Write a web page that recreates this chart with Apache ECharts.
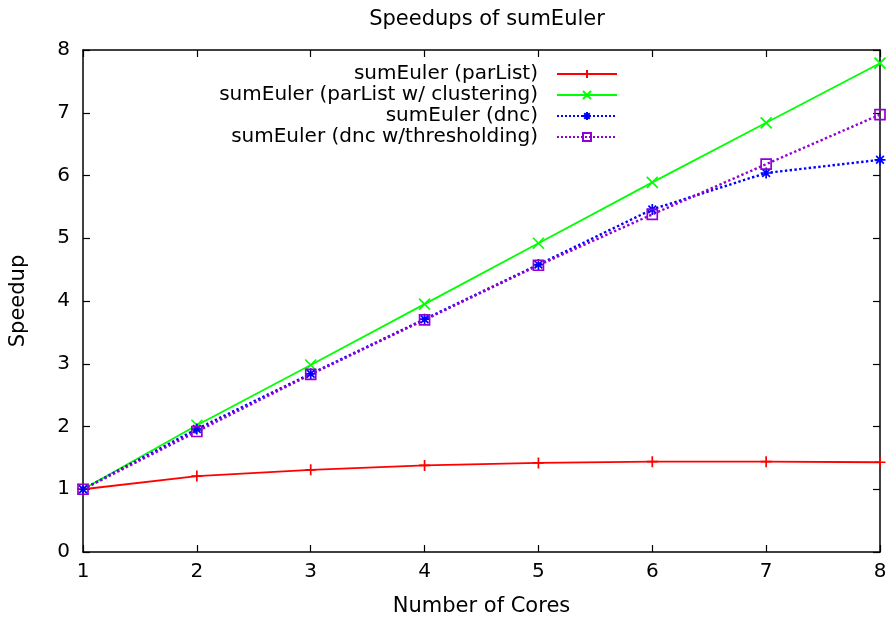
<!DOCTYPE html>
<html>
<head>
<meta charset="utf-8">
<script src="https://cdn.jsdelivr.net/npm/echarts@6/dist/echarts.min.js"></script>
<style>html,body{margin:0;padding:0;background:#fff;}#c{width:890px;height:623px;}</style>
</head>
<body>
<div id="c"></div>
<script>
const cores = [1, 2, 3, 4, 5, 6, 7, 8];
const parList = [1.00, 1.21, 1.31, 1.38, 1.42, 1.44, 1.44, 1.43];
const parListClustering = [1.00, 2.02, 2.98, 3.95, 4.92, 5.89, 6.84, 7.79];
const dnc = [1.00, 1.96, 2.84, 3.71, 4.58, 5.46, 6.04, 6.25];
const dncThresholding = [1.00, 1.92, 2.83, 3.70, 4.57, 5.38, 6.18, 6.97];
const seriesNames = [
  'sumEuler (parList)',
  'sumEuler (parList w/ clustering)',
  'sumEuler (dnc)',
  'sumEuler (dnc w/thresholding)'
];
const yTicks = [0, 1, 2, 3, 4, 5, 6, 7, 8];

const FONT = 'DejaVu Sans';
const FS = 20;
const FS_BIG = 21;
const pair = arr => cores.map((c, i) => [c, arr[i]]);

const chart = echarts.init(document.getElementById('c'), null, {renderer: 'canvas'});

function axisCommon(showLabel, margin) {
  return {
    axisLine: {show: true, onZero: false, lineStyle: {color: '#000', width: 1.5}},
    axisTick: {show: true, inside: true, length: 7, lineStyle: {color: '#000', width: 1.2}},
    axisLabel: {show: showLabel, color: '#000', fontFamily: FONT, fontSize: FS, margin: margin || 8},
    splitLine: {show: false}
  };
}

function mkSeries(name, data, color, type, symbol, size, fill) {
  return {
    name: name,
    type: 'line',
    data: pair(data),
    symbol: symbol,
    symbolSize: size,
    showSymbol: true,
    animation: false,
    lineStyle: {color: color, width: type === 'solid' ? 1.8 : 2.4, type: type},
    itemStyle: {color: fill, borderColor: color, borderWidth: 1.7}
  };
}

const option = {
  backgroundColor: '#fff',
  animation: false,
  title: {
    text: 'Speedups of sumEuler',
    left: 482, top: 4, textAlign: 'center',
    textStyle: {fontFamily: FONT, fontSize: FS_BIG, fontWeight: 'normal', color: '#000'}
  },
  legend: {
    orient: 'vertical',
    align: 'right',
    right: 267,
    top: 59,
    itemWidth: 60,
    itemHeight: 10,
    itemGap: 1,
    textStyle: {fontFamily: FONT, fontSize: FS, color: '#000', padding: [0, 14, 0, 0]},
    data: seriesNames
  },
  grid: {left: 83, right: 10, top: 50, bottom: 71, containLabel: false},
  xAxis: [
    Object.assign({
      type: 'value', min: 1, max: 8, interval: 1, position: 'bottom',
      name: 'Number of Cores', nameLocation: 'middle', nameGap: 44,
      nameTextStyle: {fontFamily: FONT, fontSize: FS_BIG, color: '#000'}
    }, axisCommon(true, 10)),
    Object.assign({type: 'value', min: 1, max: 8, interval: 1, position: 'top'}, axisCommon(false))
  ],
  yAxis: [
    Object.assign({
      type: 'value', min: yTicks[0], max: yTicks[yTicks.length - 1], interval: 1, position: 'left',
      name: 'Speedup', nameLocation: 'middle', nameGap: 54, nameRotate: 90,
      nameTextStyle: {fontFamily: FONT, fontSize: FS_BIG, color: '#000'}
    }, axisCommon(true, 13)),
    Object.assign({type: 'value', min: yTicks[0], max: yTicks[yTicks.length - 1], interval: 1, position: 'right'}, axisCommon(false))
  ],
  series: [
    mkSeries(seriesNames[0], parList, '#ff0000', 'solid', 'path://M0,5L10,5M5,0L5,10', 11, '#ff0000'),
    mkSeries(seriesNames[1], parListClustering, '#00ff00', 'solid', 'path://M0,0L10,10M10,0L0,10', 11, '#00ff00'),
    mkSeries(seriesNames[2], dnc, '#0000ff', 'dotted', 'path://M0,5L10,5M5,0L5,10M1.5,1.5L8.5,8.5M8.5,1.5L1.5,8.5', 11, '#0000ff'),
    mkSeries(seriesNames[3], dncThresholding, '#9400d3', 'dotted', 'path://M0,0L10,0L10,10L0,10Z', 10, 'rgba(0,0,0,0)')
  ]
};
chart.setOption(option);
</script>
</body>
</html>
